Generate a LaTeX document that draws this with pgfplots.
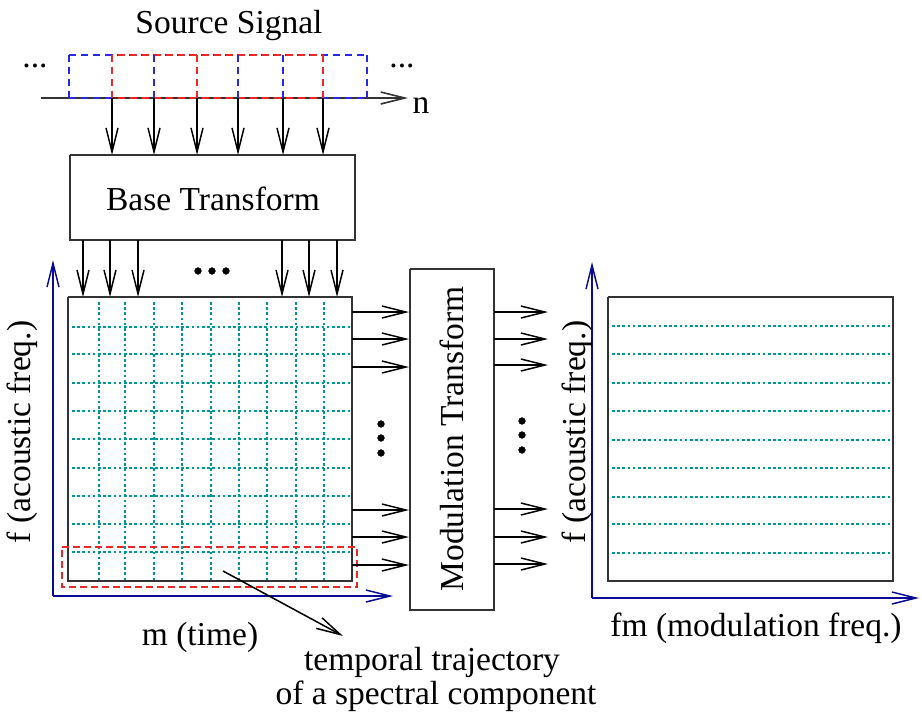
\documentclass[border=0pt]{standalone}
\usepackage{pgfplots}
\pgfplotsset{compat=1.18}
\usepackage{fontspec}
\setmainfont{Liberation Serif}
\usetikzlibrary{arrows.meta}
\definecolor{gridc}{RGB}{0,150,150}
\definecolor{axb}{RGB}{10,10,150}
\definecolor{dblue}{RGB}{40,40,230}
\definecolor{dred}{RGB}{235,40,40}
\newcommand{\bigf}{\fontsize{33.5}{40}\selectfont}
\tikzset{arr/.style={-{Straight Barb[length=24pt,width=12pt]}},
  every node/.style={inner sep=0pt}}
\begin{document}
\begin{tikzpicture}
\begin{axis}[
  hide axis, scale only axis,
  width=922pt, height=715pt,
  xmin=0, xmax=922, ymin=0, ymax=715,
  y dir=reverse, clip=false,
  unbounded coords=jump,
]
\path (axis cs:0,0) rectangle (axis cs:922,715);
% ---------- Source signal ----------
\node[font=\bigf] at (axis cs:229,25) {Source Signal};
\node[font=\bigf] at (axis cs:35,66) {...};
\node[font=\bigf] at (axis cs:402,66) {...};
\node[font=\bigf] at (axis cs:421,106) {n};
\addplot[arr, black!80, line width=1.6pt] coordinates {(41,98) (408,98)};
% dashed frames
\addplot[dblue, line width=1.6pt, dash pattern=on 7pt off 5pt] coordinates {(69,55) (367,55)};
\addplot[dblue, line width=1.6pt, dash pattern=on 7pt off 5pt] coordinates {(69,98) (367,98)};
\addplot[dred, line width=1.6pt, dash pattern=on 7pt off 5pt, dash phase=6pt] coordinates {(112,55) (323,55)};
\addplot[dred, line width=1.6pt, dash pattern=on 7pt off 5pt, dash phase=6pt] coordinates {(112,98) (323,98)};
\addplot[dblue, line width=1.6pt, dash pattern=on 7pt off 5pt] coordinates {(69,55) (69,98) (nan,nan) (154,55) (154,98) (nan,nan) (238,55) (238,98) (nan,nan) (283,55) (283,98) (nan,nan) (367,55) (367,98)};
\addplot[dred, line width=1.6pt, dash pattern=on 7pt off 5pt] coordinates {(112,55) (112,98) (nan,nan) (197,55) (197,98) (nan,nan) (323,55) (323,98)};
% arrows down to base transform
\addplot[arr, black, line width=1.5pt] coordinates {(112,98) (112,155)};
\addplot[arr, black, line width=1.5pt] coordinates {(154,98) (154,155)};
\addplot[arr, black, line width=1.5pt] coordinates {(197,98) (197,155)};
\addplot[arr, black, line width=1.5pt] coordinates {(238,98) (238,155)};
\addplot[arr, black, line width=1.5pt] coordinates {(283,98) (283,155)};
\addplot[arr, black, line width=1.5pt] coordinates {(323,98) (323,155)};
% ---------- Base transform box ----------
\addplot[black!80, line width=1.7pt] coordinates {(70,155) (355,155) (355,240) (70,240) (70,155)};
\node[font=\bigf] at (axis cs:213,199) {Base Transform};
% arrows down to grid
\addplot[arr, black, line width=1.5pt] coordinates {(83,240) (83,297)};
\addplot[arr, black, line width=1.5pt] coordinates {(110,240) (110,297)};
\addplot[arr, black, line width=1.5pt] coordinates {(138,240) (138,297)};
\addplot[arr, black, line width=1.5pt] coordinates {(282,240) (282,297)};
\addplot[arr, black, line width=1.5pt] coordinates {(309,240) (309,297)};
\addplot[arr, black, line width=1.5pt] coordinates {(337,240) (337,297)};
\addplot[only marks, mark=*, mark size=3.4pt, black] coordinates {(198,271) (212,271) (226,271)};
% ---------- left grid ----------
\addplot[gridc, line width=1.5pt, dash pattern=on 2.6pt off 2.6pt] coordinates {
 (99,302) (99,581) (nan,nan) (125,302) (125,581) (nan,nan) (154,302) (154,581) (nan,nan)
 (182,302) (182,581) (nan,nan) (211,302) (211,581) (nan,nan) (239,302) (239,581) (nan,nan)
 (267,302) (267,581) (nan,nan) (296,302) (296,581) (nan,nan) (324,302) (324,581)};
\addplot[gridc, line width=1.5pt, dash pattern=on 2.6pt off 2.6pt] coordinates {
 (72,327) (352,327) (nan,nan) (72,354) (352,354) (nan,nan) (72,383) (352,383) (nan,nan)
 (72,411) (352,411) (nan,nan) (72,439) (352,439) (nan,nan) (72,468) (352,468) (nan,nan)
 (72,496) (352,496) (nan,nan) (72,524) (352,524) (nan,nan) (72,552) (352,552)};
\addplot[black!80, line width=1.8pt] coordinates {(68,297) (352,297) (352,581) (68,581) (68,297)};
\addplot[dred, line width=1.6pt, dash pattern=on 7pt off 4pt] coordinates {(62,547) (357,547) (357,587) (62,587) (62,547)};
% blue axes left
\addplot[arr, axb, line width=1.5pt] coordinates {(53,596) (53,260)};
\addplot[arr, axb, line width=1.5pt] coordinates {(53,596) (393,596)};
\node[font=\bigf, rotate=90] at (axis cs:22,432) {f (acoustic freq.)};
\node[font=\bigf] at (axis cs:200,637) {m (time)};
% pointer
\addplot[arr, black, line width=1.5pt] coordinates {(223,571) (343,636)};
\node[font=\bigf] at (axis cs:432,662) {temporal trajectory};
\node[font=\bigf] at (axis cs:436,696) {of a spectral component};
% ---------- arrows grid -> modulation ----------
\addplot[arr, black, line width=1.5pt] coordinates {(352,312) (409,312)};
\addplot[arr, black, line width=1.5pt] coordinates {(352,339) (409,339)};
\addplot[arr, black, line width=1.5pt] coordinates {(352,367) (409,367)};
\addplot[arr, black, line width=1.5pt] coordinates {(352,510) (409,510)};
\addplot[arr, black, line width=1.5pt] coordinates {(352,537) (409,537)};
\addplot[arr, black, line width=1.5pt] coordinates {(352,565) (409,565)};
\addplot[only marks, mark=*, mark size=3.4pt, black] coordinates {(381,424) (381,438) (381,453)};
% ---------- Modulation transform box ----------
\addplot[black!80, line width=1.7pt] coordinates {(410,269) (494,269) (494,610) (410,610) (410,269)};
\node[font=\bigf, rotate=90] at (axis cs:452,439) {Modulation Transform};
\addplot[arr, black, line width=1.5pt] coordinates {(494,312) (548,312)};
\addplot[arr, black, line width=1.5pt] coordinates {(494,339) (548,339)};
\addplot[arr, black, line width=1.5pt] coordinates {(494,365) (548,365)};
\addplot[arr, black, line width=1.5pt] coordinates {(494,509) (548,509)};
\addplot[arr, black, line width=1.5pt] coordinates {(494,537) (548,537)};
\addplot[arr, black, line width=1.5pt] coordinates {(494,564) (548,564)};
\addplot[only marks, mark=*, mark size=3.4pt, black] coordinates {(522,421) (522,435) (522,450)};
% ---------- right panel ----------
\addplot[gridc, line width=1.5pt, dash pattern=on 2.6pt off 2.6pt] coordinates {
 (612,326) (893,326) (nan,nan) (612,354) (893,354) (nan,nan) (612,383) (893,383) (nan,nan)
 (612,411) (893,411) (nan,nan) (612,440) (893,440) (nan,nan) (612,468) (893,468) (nan,nan)
 (612,497) (893,497) (nan,nan) (612,524) (893,524) (nan,nan) (612,553) (893,553)};
\addplot[black!80, line width=1.8pt] coordinates {(608,297) (893,297) (893,581) (608,581) (608,297)};
\addplot[arr, axb, line width=1.5pt] coordinates {(592,598) (592,262)};
\addplot[arr, axb, line width=1.5pt] coordinates {(592,598) (919,598)};
\node[font=\bigf, rotate=90] at (axis cs:577,432) {f (acoustic freq.)};
\node[font=\bigf] at (axis cs:756,628) {fm (modulation freq.)};
\end{axis}
\end{tikzpicture}
\end{document}
